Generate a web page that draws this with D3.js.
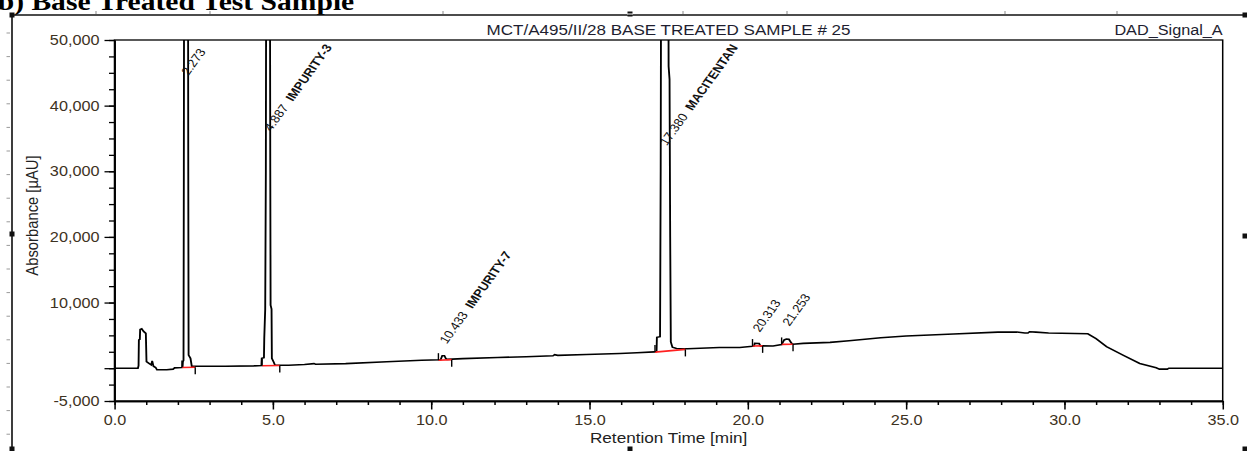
<!DOCTYPE html>
<html>
<head>
<meta charset="utf-8">
<script src="https://cdn.jsdelivr.net/npm/d3@7"></script>
<style>
  html, body { margin: 0; padding: 0; background: #fff; }
  svg { display: block; }
  text { font-family: "Liberation Sans", Arial, sans-serif; }
</style>
</head>
<body>
<script>
// ---- chromatogram data -------------------------------------------------
// Retention time (min) and detector signal (µAU) of the recorded trace
const traceTime = [
  0.00, 0.74, 0.76, 0.77, 0.80, 0.81, 0.86, 0.92, 0.99, 1.01, 1.10, 1.16, 1.19, 1.23, 1.30, 1.34,
  1.65, 1.85, 1.90, 2.12, 2.15, 2.16, 2.18, 2.19, 2.22, 2.30, 2.33, 2.34, 2.40, 2.44, 3.50, 4.40,
  4.64, 4.65, 4.72, 4.73, 4.76, 4.78, 4.82, 4.88, 4.92, 4.93, 4.96, 4.97, 5.03, 5.07, 5.50, 6.00,
  6.30, 6.35, 7.30, 8.60, 9.70, 10.30, 10.35, 10.42, 10.46, 10.50, 11.00, 12.10, 13.00, 13.85,
  13.90, 14.00, 14.90, 15.96, 16.50, 17.05, 17.12, 17.13, 17.23, 17.25, 17.30, 17.46, 17.50, 17.53,
  17.55, 17.57, 17.62, 17.75, 18.10, 19.10, 19.75, 20.15, 20.20, 20.22, 20.36, 20.40, 20.80, 21.07,
  21.15, 21.22, 21.30, 21.38, 21.43, 21.75, 22.60, 23.20, 24.20, 25.00, 26.50, 27.90, 28.50, 28.75,
  28.85, 28.90, 29.10, 29.50, 30.74, 31.00, 31.33, 31.85, 32.38, 32.90, 33.00, 33.25, 33.30, 35.00
];
const traceAbsorbance = [
  0, 0, 400, 4300, 4400, 5900, 6000, 5600, 5300, 1000, 700, 500, 1100, 300, 100, -250,
  -250, -150, 50, 100, 150, 1000, 1200, 30000, 150000, 150000, 30000, 2000, 1500, 300, 300, 350,
  400, 1500, 1600, 4600, 9000, 30000, 150000, 150000, 30000, 9600, 9000, 1500, 900, 450, 450, 560,
  700, 600, 700, 970, 1200, 1280, 1900, 1900, 1500, 1350, 1450, 1630, 1750, 1890,
  2050, 1950, 2090, 2240, 2350, 2480, 2550, 4700, 4800, 30000, 150000, 150000, 46000, 44000,
  20000, 4000, 3200, 3000, 2950, 3150, 3150, 3350, 3400, 3800, 3750, 3400, 3370, 3600,
  4300, 4450, 4400, 3800, 3650, 3780, 3930, 4180, 4640, 4900, 5200, 5500, 5520, 5350,
  5350, 5550, 5500, 5350, 5250, 4500, 3270, 1990, 720, 50, -150, -150, 0, 0
];

// Integrated peaks
const peakRetention  = [2.273, 4.887, 10.433, 17.380, 20.313, 21.253];
const peakNames      = ["", "IMPURITY-3", "IMPURITY-7", "MACITENTAN", "", ""];
const peakStartTime  = [2.13, 4.66, 10.23, 17.07, 20.15, 21.07];
const peakEndTime    = [2.55, 5.22, 10.65, 18.03, 20.47, 21.43];
const peakStartLevel = [100, 380, 1220, 2450, 3370, 3620];
const peakEndLevel   = [150, 420, 1300, 2860, 3400, 3650];
const peakLabelLevel = [44500, 36000, 3600, 33800, 5400, 6300];

// Axis ticks
const timeMajorTicks = [0, 5, 10, 15, 20, 25, 30, 35];
const signalMajorTicks = [-5000, 0, 10000, 20000, 30000, 40000, 50000];
const signalUnlabelled = [0];

const chartTitle = "MCT/A495/II/28 BASE TREATED SAMPLE # 25";
const signalName = "DAD_Signal_A";
const xTitle = "Retention Time [min]";
const yTitle = "Absorbance [µAU]";
const pageHeading = "b) Base Treated Test Sample";

// ---- layout --------------------------------------------------------------
const W = 1247, H = 451;
const K = 1.16;                 // horizontal stretch of the page
const VW = W / K;
const rx = v => v / K;          // page pixel -> drawing unit (horizontal)

const svg = d3.select("body").append("svg")
  .attr("width", W).attr("height", H)
  .attr("viewBox", `0 0 ${VW} ${H}`)
  .attr("preserveAspectRatio", "none");

const plotL = rx(114.5), plotR = rx(1222.7), plotT = 40, plotB = 401;

const x = d3.scaleLinear().domain([0, 35]).range([plotL, plotR]);
const y = d3.scaleLinear().domain([-5000, 50000]).range([plotB, plotT]);

const fmtLocale = d3.formatLocale({decimal: ".", thousands: ",", grouping: [3], currency: ["", ""], minus: "-"});
const fmtSignal = fmtLocale.format(",");
const fmtTime = fmtLocale.format(".1f");

// ---- page frame ------------------------------------------------------------
svg.append("text")
  .attr("x", -2).attr("y", 10)
  .style("font-family", "'Liberation Serif', 'Times New Roman', serif")
  .style("font-weight", "bold").style("font-size", "25.5px")
  .attr("fill", "#000")
  .text(pageHeading);

const frame = svg.append("g").attr("stroke", "#111");
frame.append("line").attr("x1", rx(12)).attr("x2", rx(1247)).attr("y1", 15).attr("y2", 15).attr("stroke-width", 1.4);
frame.append("line").attr("x1", rx(12)).attr("x2", rx(12)).attr("y1", 15).attr("y2", 451).attr("stroke-width", 1.4);

// ruler marks along the frame
const rulerTop = [96, 210, 443, 683, 787, 1005, 1117];
frame.selectAll("line.rt").data(rulerTop).join("line")
  .attr("class", "rt")
  .attr("x1", d => rx(d)).attr("x2", d => rx(d)).attr("y1", 11).attr("y2", 14)
  .attr("stroke", "#999").attr("stroke-width", 1);
frame.selectAll("line.rl").data(d3.range(33, 445, 23.6)).join("line")
  .attr("class", "rl")
  .attr("x1", rx(6.5)).attr("x2", rx(10)).attr("y1", d => d).attr("y2", d => d)
  .attr("stroke", "#999").attr("stroke-width", 1);

// selection handles
const handles = [[12, 15], [630, 14], [1245, 15], [12, 234], [1245, 236], [12, 449], [630, 449], [1245, 449]];
svg.append("g").selectAll("rect").data(handles).join("rect")
  .attr("x", d => rx(d[0] - 2.5)).attr("y", d => d[1] - 2.5)
  .attr("width", rx(5)).attr("height", 5)
  .attr("fill", "#111");
svg.append("line").attr("x1", rx(627)).attr("x2", rx(633)).attr("y1", 14).attr("y2", 14)
  .attr("stroke", "#fff").attr("stroke-width", 1);

// ---- titles ------------------------------------------------------------------
svg.append("text")
  .attr("x", (plotL + plotR) / 2).attr("y", 35)
  .attr("text-anchor", "middle")
  .style("font-size", "14.7px").attr("fill", "#1e1e30")
  .text(chartTitle);

svg.append("text")
  .attr("x", plotR).attr("y", 35)
  .attr("text-anchor", "end")
  .style("font-size", "14px").attr("fill", "#1e1e30")
  .text(signalName);

svg.append("text")
  .attr("x", (plotL + plotR) / 2).attr("y", 443)
  .attr("text-anchor", "middle")
  .style("font-size", "14.8px").attr("fill", "#222")
  .text(xTitle);

svg.append("text")
  .attr("transform", `translate(${rx(38)},${(plotT + plotB) / 2 - 5}) rotate(-90)`)
  .attr("text-anchor", "middle")
  .style("font-size", "14.8px").attr("fill", "#222")
  .text(yTitle);

// ---- axes ------------------------------------------------------------------
const tickColor = "#3d3222";

const yMinor = svg.append("g").attr("transform", `translate(${plotL},0)`)
  .call(d3.axisLeft(y).tickValues(d3.range(-5000, 50001, 2500)).tickSize(rx(5.5)).tickSizeOuter(0).tickFormat(""));
const yMajor = svg.append("g").attr("transform", `translate(${plotL},0)`)
  .call(d3.axisLeft(y).tickValues(signalMajorTicks).tickSize(rx(10)).tickSizeOuter(0).tickPadding(rx(5))
    .tickFormat(d => signalUnlabelled.includes(d) ? "" : fmtSignal(d)));

const xMinor = svg.append("g").attr("transform", `translate(0,${plotB})`)
  .call(d3.axisBottom(x).tickValues(d3.range(0, 35.01, 1)).tickSize(4).tickSizeOuter(0).tickFormat(""));
const xMajor = svg.append("g").attr("transform", `translate(0,${plotB})`)
  .call(d3.axisBottom(x).tickValues(timeMajorTicks).tickSize(8.5).tickSizeOuter(0).tickPadding(6).tickFormat(fmtTime));

[yMinor, yMajor, xMinor, xMajor].forEach(g => {
  g.selectAll("path, line").attr("stroke", "#000").attr("stroke-width", 1.3);
  g.selectAll("text").attr("fill", tickColor).style("font-size", "14px")
    .style("font-family", "'Liberation Sans', Arial, sans-serif");
});

// plot frame
svg.append("rect")
  .attr("x", plotL).attr("y", plotT)
  .attr("width", plotR - plotL).attr("height", plotB - plotT)
  .attr("fill", "none").attr("stroke", "#000").attr("stroke-width", 1.3);

// ---- trace -----------------------------------------------------------------
svg.append("clipPath").attr("id", "plot-clip")
  .append("rect").attr("x", plotL).attr("y", plotT)
  .attr("width", plotR - plotL).attr("height", plotB - plotT);

const plot = svg.append("g").attr("clip-path", "url(#plot-clip)");

const line = d3.line()
  .x(i => x(traceTime[i]))
  .y(i => y(traceAbsorbance[i]));

plot.append("path")
  .attr("d", line(d3.range(traceTime.length)))
  .attr("fill", "none").attr("stroke", "#000")
  .attr("stroke-width", 1.6).attr("stroke-linejoin", "miter");

// integration baselines and peak delimiters
const peaks = d3.range(peakRetention.length);
plot.selectAll("line.base").data(peaks).join("line")
  .attr("class", "base")
  .attr("x1", i => x(peakStartTime[i])).attr("y1", i => y(peakStartLevel[i]))
  .attr("x2", i => x(peakEndTime[i])).attr("y2", i => y(peakEndLevel[i]))
  .attr("stroke", "#ff2020").attr("stroke-width", 1.6);

plot.selectAll("line.start").data(peaks).join("line")
  .attr("class", "start")
  .attr("x1", i => x(peakStartTime[i])).attr("x2", i => x(peakStartTime[i]))
  .attr("y1", i => y(peakStartLevel[i])).attr("y2", i => y(peakStartLevel[i]) - 7)
  .attr("stroke", "#000").attr("stroke-width", 1.2);

plot.selectAll("line.end").data(peaks).join("line")
  .attr("class", "end")
  .attr("x1", i => x(peakEndTime[i])).attr("x2", i => x(peakEndTime[i]))
  .attr("y1", i => y(peakEndLevel[i])).attr("y2", i => y(peakEndLevel[i]) + 7)
  .attr("stroke", "#000").attr("stroke-width", 1.2);

// peak labels: retention time, then the compound name in bold
const labels = svg.append("g").selectAll("text").data(peaks).join("text")
  .attr("transform", i => `translate(${x(peakRetention[i]) + rx(2)},${y(peakLabelLevel[i])}) rotate(-58)`)
  .style("font-size", "11.5px").style("white-space", "pre")
  .attr("fill", "#111");
labels.append("tspan").text(i => peakRetention[i].toFixed(3));
labels.append("tspan").style("font-weight", "bold")
  .text(i => peakNames[i] ? `  ${peakNames[i]}` : "");
</script>
</body>
</html>
